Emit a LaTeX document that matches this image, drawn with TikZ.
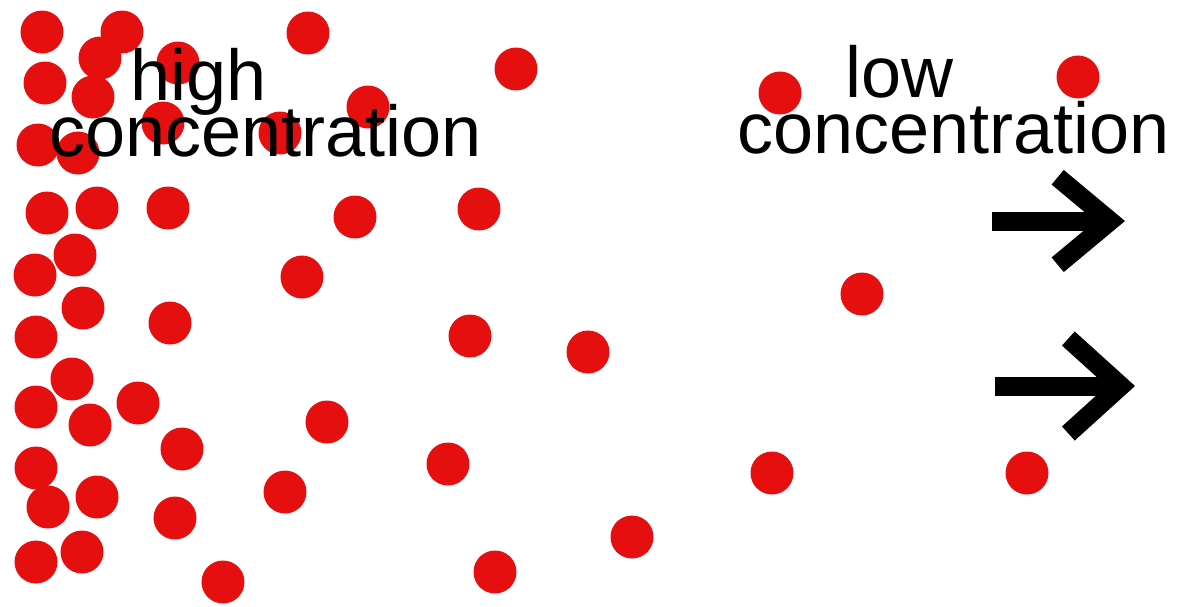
\documentclass[tikz,border=0pt]{standalone}
\usepackage{fontspec}
\setmainfont{Liberation Sans}
\usetikzlibrary{arrows.meta}
\definecolor{dotred}{HTML}{E50F0F}
\tikzset{
  particle/.style={fill=dotred},
  conctext/.style={inner sep=0pt,anchor=base west,text=black,font=\fontsize{41}{31}\selectfont},
  flowarrow/.style={line width=0.38cm,-{Straight Barb[length=1.05cm,width=#1,line width=0.38cm]}},
  flowarrow/.default=1.75cm
}

\begin{document}
\begin{tikzpicture}[x=0.02cm,y=-0.02cm]
  \useasboundingbox (0,0) rectangle (1178,606);
  \foreach \px/\py in {42/32,45/83,38/145,47/213,35/275,36/337,36/407,36/468,48/507,36/562,
      122/32,100/58,93/97,78/153,97/208,75/255,83/308,72/379,90/425,97/497,82/552,
      178/63,163/123,308/33,280/133,368/107,168/208,355/217,302/277,170/323,138/403,
      182/449,327/422,175/518,285/492,223/582,516/69,780/93,479/209,470/336,588/352,
      448/464,772/473,632/537,495/572,1078/77,862/294,1027/473}
    \fill[particle] (\px,\py) circle[radius=0.43cm];
  \node[conctext] (high) at (130,100) {high};
  \node[conctext] (highconc) at (49,156) {concentration};
  \node[conctext] (low) at (845,97) {low};
  \node[conctext] (lowconc) at (737,153) {concentration};
  \coordinate (upstart) at (992,221);
  \coordinate (upend) at (1125,221);
  \coordinate (downstart) at (995,386);
  \coordinate (downend) at (1135,386);
  \draw[flowarrow] (upstart) -- (upend);
  \draw[flowarrow=1.9cm] (downstart) -- (downend);
\end{tikzpicture}
\end{document}
